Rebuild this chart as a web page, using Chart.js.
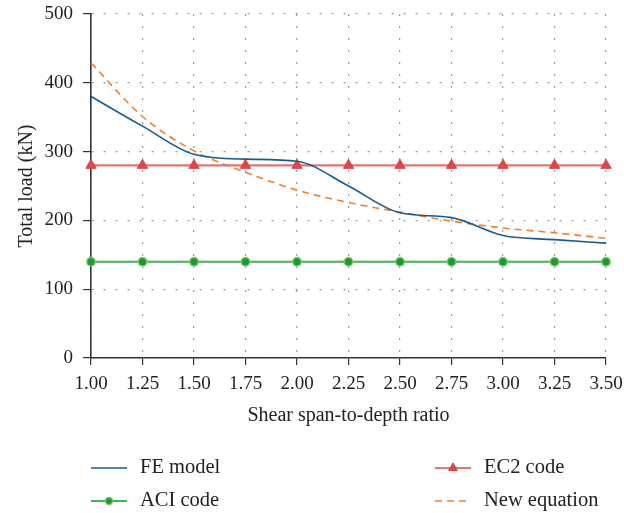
<!DOCTYPE html>
<html>
<head>
<meta charset="utf-8">
<script src="https://cdn.jsdelivr.net/npm/chart.js@4.4.0/dist/chart.umd.min.js"></script>
<style>
    html, body { margin: 0; padding: 0; background: #fff; }
</style>
</head>
<body>
<canvas id="grafico" width="624" height="513"></canvas>
<script>
// Razão vão de corte / altura útil
const razoes = ['1.00', '1.25', '1.50', '1.75', '2.00', '2.25', '2.50', '2.75', '3.00', '3.25', '3.50'];

// Carga total (kN) para cada método
const modeloFE   = [380, 337, 296, 289, 286, 250, 211, 204, 178, 172, 167];
const normaEC2   = [280, 280, 280, 280, 280, 280, 280, 280, 280, 280, 280];
const normaACI   = [140, 140, 140, 140, 140, 140, 140, 140, 140, 140, 140];
const novaEquacao = [429, 351, 301, 270, 244, 226, 212, 199, 189, 182, 174];

const fonteSerif = "'Liberation Serif', 'DejaVu Serif', serif";

/**
 * Legenda desenhada em duas colunas abaixo do eixo x.
 */
const legendaDuasColunas = {
    id: 'legendaDuasColunas',
    afterDraw(chart) {
        const ctx = chart.ctx;
        const posicoes = [
            { ds: 0, x: 91, y: 468 },
            { ds: 1, x: 435, y: 468 },
            { ds: 2, x: 91, y: 501 },
            { ds: 3, x: 435, y: 501 }
        ];
        ctx.save();
        posicoes.forEach(p => {
            const ds = chart.data.datasets[p.ds];
            ctx.strokeStyle = ds.borderColor;
            ctx.lineWidth = ds.borderWidth;
            ctx.setLineDash(ds.borderDash || []);
            ctx.beginPath();
            ctx.moveTo(p.x, p.y);
            ctx.lineTo(p.x + 36, p.y);
            ctx.stroke();
            ctx.setLineDash([]);
            if (ds.pointRadius > 0) {
                ctx.fillStyle = ds.pointBackgroundColor;
                ctx.strokeStyle = ds.pointBorderColor;
                ctx.lineWidth = ds.pointBorderWidth;
                Chart.helpers.drawPoint(ctx, {
                    pointStyle: ds.pointStyle,
                    radius: ds.pointRadius * 0.85,
                    borderWidth: ds.pointBorderWidth
                }, p.x + 18, p.y);
            }
            ctx.fillStyle = '#222';
            ctx.font = '20.5px ' + fonteSerif;
            ctx.textBaseline = 'middle';
            ctx.textAlign = 'left';
            ctx.fillText(ds.label, p.x + 49, p.y);
        });
        ctx.restore();
    }
};

const ctx = document.getElementById('grafico');

new Chart(ctx.getContext('2d'), {
    type: 'line',
    data: {
        labels: razoes,
        datasets: [{
            label: 'FE model',
            data: modeloFE,
            borderColor: '#1b5a8e',
            borderWidth: 1.6,
            pointRadius: 0,
            cubicInterpolationMode: 'monotone',
            fill: false
        }, {
            label: 'EC2 code',
            data: normaEC2,
            borderColor: '#e27474',
            borderWidth: 2.2,
            pointStyle: 'triangle',
            pointRadius: 6,
            pointBackgroundColor: '#d9484c',
            pointBorderColor: '#d9484c',
            pointBorderWidth: 1,
            fill: false
        }, {
            label: 'ACI code',
            data: normaACI,
            borderColor: '#3cb558',
            borderWidth: 2,
            pointStyle: 'circle',
            pointRadius: 4.2,
            pointBackgroundColor: '#189a3a',
            pointBorderColor: '#7cc85a',
            pointBorderWidth: 1.4,
            fill: false
        }, {
            label: 'New equation',
            data: novaEquacao,
            borderColor: '#f07f2a',
            borderWidth: 1.6,
            borderDash: [7, 5],
            pointRadius: 0,
            cubicInterpolationMode: 'monotone',
            fill: false
        }]
    },
    options: {
        responsive: false,
        animation: false,
        layout: {
            padding: { top: 14, right: 18, left: 0, bottom: 75 }
        },
        plugins: {
            legend: { display: false },
            tooltip: { enabled: false }
        },
        scales: {
            x: {
                type: 'category',
                offset: false,
                afterFit(scale) {
                    scale.height = 80;
                    scale.paddingLeft = 0;
                    scale.paddingRight = 0;
                },
                grid: {
                    color: '#9a9a9a',
                    lineWidth: 1.2,
                    tickColor: '#333',
                    tickLength: 7,
                    tickBorderDash: []
                },
                border: { color: '#333', width: 1.6, dash: [2, 10] },
                ticks: {
                    color: '#222',
                    padding: 8,
                    maxRotation: 0,
                    font: { family: fonteSerif, size: 19 }
                },
                title: {
                    display: true,
                    text: 'Shear span-to-depth ratio',
                    color: '#222',
                    padding: { top: 4, bottom: 10 },
                    font: { family: fonteSerif, size: 20 }
                }
            },
            y: {
                min: 0,
                max: 500,
                afterFit(scale) {
                    scale.width = 91;
                    scale.paddingTop = 0;
                    scale.paddingBottom = 0;
                },
                grid: {
                    color: '#9a9a9a',
                    lineWidth: 1.2,
                    tickColor: '#333',
                    tickLength: 8,
                    tickBorderDash: []
                },
                border: { color: '#333', width: 1.6, dash: [2, 10] },
                ticks: {
                    stepSize: 100,
                    color: '#222',
                    padding: 10,
                    font: { family: fonteSerif, size: 19 }
                },
                title: {
                    display: true,
                    text: 'Total load (kN)',
                    color: '#222',
                    padding: { top: 15, bottom: 0 },
                    font: { family: fonteSerif, size: 20 }
                }
            }
        }
    },
    plugins: [legendaDuasColunas]
});
</script>
</body>
</html>
